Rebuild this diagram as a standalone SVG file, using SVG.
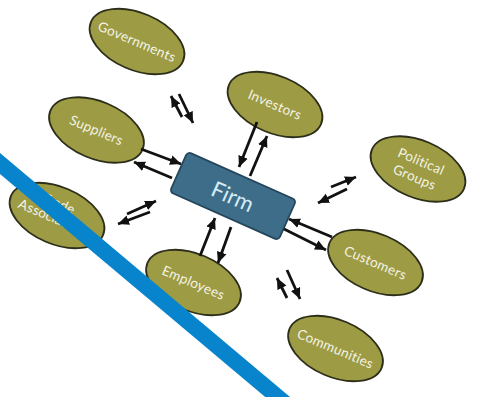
<svg xmlns="http://www.w3.org/2000/svg" width="487" height="397" viewBox="0 0 487 397">
<defs>
<style>
.stake ellipse{fill:#9d9b43;stroke:#2c2e1a;stroke-width:1.8}
.stake text{font-family:Lato,"Open Sans","DejaVu Sans",sans-serif;font-size:13.5px;letter-spacing:0.3px;fill:#f3f3e6;text-anchor:middle;dominant-baseline:central}
.conn line{stroke:#111;stroke-width:2.8;marker-end:url(#ah)}
</style>
<marker id="ah" markerUnits="userSpaceOnUse" markerWidth="12" markerHeight="12" refX="11" refY="5.5" orient="auto">
<path d="M0,0.5 L11,5.5 L0,10.5 z" fill="#111"/>
</marker>
</defs>
<rect width="487" height="397" fill="#ffffff"/>

<g id="governments" class="stake" transform="translate(137,41.5) rotate(23)">
<ellipse rx="50" ry="28.5"/><text>Governments</text></g>
<g id="investors" class="stake" transform="translate(275,104.5) rotate(23)">
<ellipse rx="50" ry="28.5"/><text>Investors</text></g>
<g id="suppliers" class="stake" transform="translate(96.5,130) rotate(23)">
<ellipse rx="50" ry="28.5"/><text>Suppliers</text></g>
<g id="political" class="stake" transform="translate(418,169) rotate(23)">
<ellipse rx="50" ry="28.5"/><text y="-8.5">Political</text><text y="8.5">Groups</text></g>
<g id="trade" class="stake" transform="translate(57,215.5) rotate(23)">
<ellipse rx="50" ry="28.5"/><text x="-3" y="-12">Trade</text><text x="-1" y="3">Associations</text></g>
<g id="customers" class="stake" transform="translate(375.5,262.5) rotate(23)">
<ellipse rx="50" ry="28.5"/><text>Customers</text></g>
<g id="employees" class="stake" transform="translate(193.5,282.5) rotate(23)">
<ellipse rx="50" ry="28.5"/><text>Employees</text></g>
<g id="communities" class="stake" transform="translate(335.5,348.5) rotate(23)">
<ellipse rx="50" ry="28.5"/><text>Communities</text></g>

<g id="firm" transform="translate(233,196) rotate(24)">
<rect x="-59.5" y="-22" width="119" height="44" rx="4" fill="#3e6d89" stroke="#24465a" stroke-width="1.8"/>
<text font-family="Lato,'Open Sans','DejaVu Sans',sans-serif" font-size="22" fill="#d6edf5" text-anchor="middle" dominant-baseline="central">Firm</text>
</g>

<g id="connectors" class="conn">
<line x1="141" y1="149" x2="181" y2="164"/>
<line x1="172" y1="178" x2="134" y2="162"/>
<line x1="257" y1="122" x2="239" y2="167"/>
<line x1="250" y1="176" x2="267" y2="136"/>
<line x1="200" y1="256" x2="215" y2="218"/>
<line x1="231" y1="227" x2="218" y2="263"/>
<line x1="332" y1="237" x2="289" y2="219"/>
<line x1="284" y1="229" x2="326" y2="250"/>
<line x1="182" y1="117" x2="171" y2="96"/>
<line x1="179" y1="94" x2="193" y2="123"/>
<line x1="331" y1="187" x2="356" y2="177"/>
<line x1="347" y1="189" x2="318" y2="203"/>
<line x1="127" y1="214" x2="156" y2="201"/>
<line x1="150" y1="212" x2="118" y2="224"/>
<line x1="287" y1="298" x2="277" y2="278"/>
<line x1="287" y1="270" x2="300" y2="299"/>
</g>

<path d="M-20,146.7 L300,415.8" fill="none" stroke="#0784cc" stroke-width="16"/>
</svg>
